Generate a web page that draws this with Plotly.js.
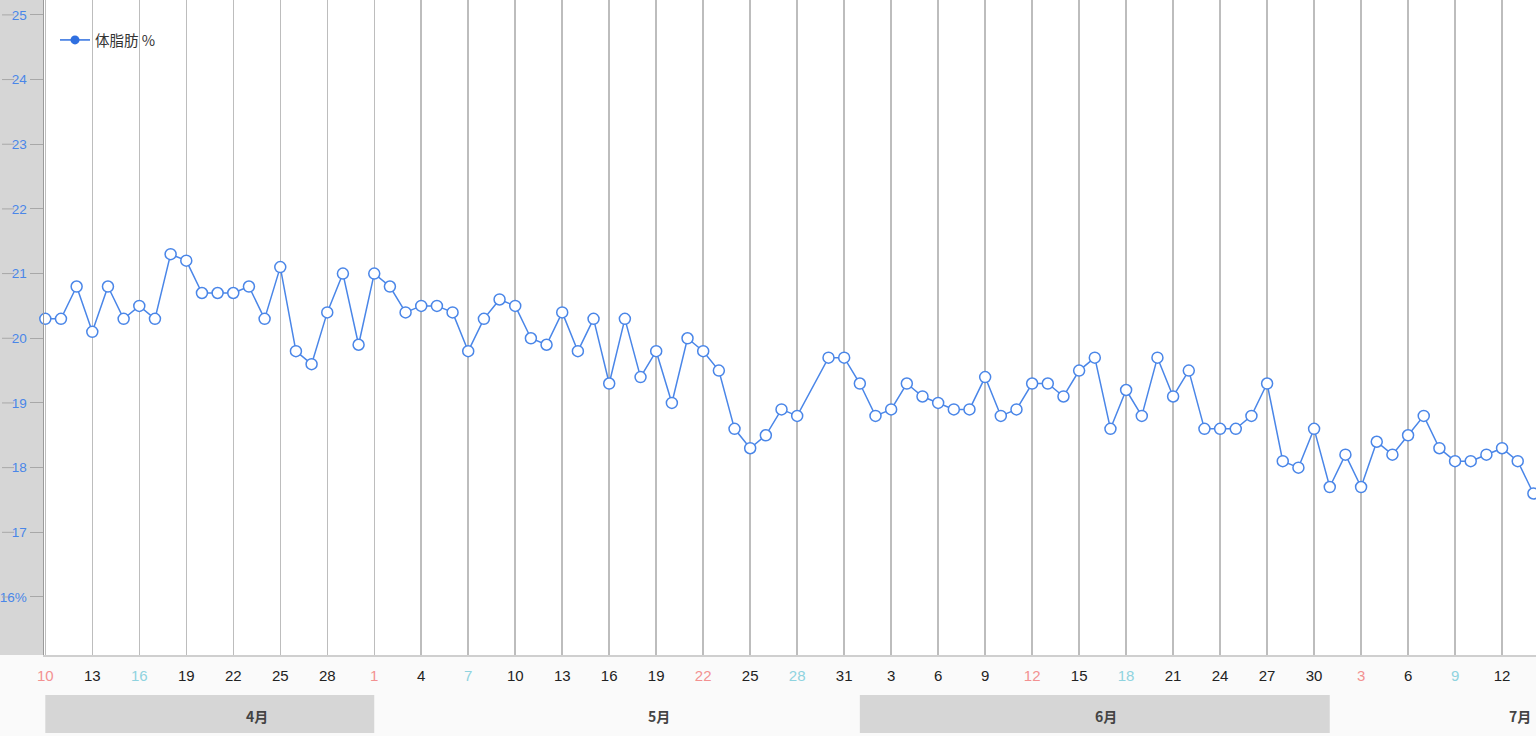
<!DOCTYPE html>
<html>
<head>
<meta charset="utf-8">
<script src="https://cdn.plot.ly/plotly-3.0.1.min.js"></script>
<style>html,body{margin:0;padding:0;background:#fafafa;}#chart{width:1536px;height:736px;}</style>
</head>
<body>
<div id="chart"></div>
<script>
// ---- data ----
const dates = [
  "2016-04-10","2016-04-11","2016-04-12","2016-04-13","2016-04-14","2016-04-15","2016-04-16","2016-04-17",
  "2016-04-18","2016-04-19","2016-04-20","2016-04-21","2016-04-22","2016-04-23","2016-04-24","2016-04-25",
  "2016-04-26","2016-04-27","2016-04-28","2016-04-29","2016-04-30",
  "2016-05-01","2016-05-02","2016-05-03","2016-05-04","2016-05-05","2016-05-06","2016-05-07","2016-05-08",
  "2016-05-09","2016-05-10","2016-05-11","2016-05-12","2016-05-13","2016-05-14","2016-05-15","2016-05-16",
  "2016-05-17","2016-05-18","2016-05-19","2016-05-20","2016-05-21","2016-05-22","2016-05-23","2016-05-24",
  "2016-05-25","2016-05-26","2016-05-27","2016-05-28","2016-05-30","2016-05-31",
  "2016-06-01","2016-06-02","2016-06-03","2016-06-04","2016-06-05","2016-06-06","2016-06-07","2016-06-08",
  "2016-06-09","2016-06-10","2016-06-11","2016-06-12","2016-06-13","2016-06-14","2016-06-15","2016-06-16",
  "2016-06-17","2016-06-18","2016-06-19","2016-06-20","2016-06-21","2016-06-22","2016-06-23","2016-06-24",
  "2016-06-25","2016-06-26","2016-06-27","2016-06-28","2016-06-29","2016-06-30",
  "2016-07-01","2016-07-02","2016-07-03","2016-07-04","2016-07-05","2016-07-06","2016-07-07","2016-07-08",
  "2016-07-09","2016-07-10","2016-07-11","2016-07-12","2016-07-13","2016-07-14"
];
const bodyFat = [
  20.3,20.3,20.8,20.1,20.8,20.3,20.5,20.3,
  21.3,21.2,20.7,20.7,20.7,20.8,20.3,21.1,
  19.8,19.6,20.4,21.0,19.9,
  21.0,20.8,20.4,20.5,20.5,20.4,19.8,20.3,
  20.6,20.5,20.0,19.9,20.4,19.8,20.3,19.3,
  20.3,19.4,19.8,19.0,20.0,19.8,19.5,18.6,
  18.3,18.5,18.9,18.8,19.7,19.7,
  19.3,18.8,18.9,19.3,19.1,19.0,18.9,18.9,
  19.4,18.8,18.9,19.3,19.3,19.1,19.5,19.7,
  18.6,19.2,18.8,19.7,19.1,19.5,18.6,18.6,
  18.6,18.8,19.3,18.1,18.0,18.6,
  17.7,18.2,17.7,18.4,18.2,18.5,18.8,18.3,
  18.1,18.1,18.2,18.3,18.1,17.6
];
const seriesName = "体脂肪 %";

const xTickDates = [
  "2016-04-10","2016-04-13","2016-04-16","2016-04-19","2016-04-22","2016-04-25","2016-04-28",
  "2016-05-01","2016-05-04","2016-05-07","2016-05-10","2016-05-13","2016-05-16","2016-05-19",
  "2016-05-22","2016-05-25","2016-05-28","2016-05-31","2016-06-03","2016-06-06","2016-06-09",
  "2016-06-12","2016-06-15","2016-06-18","2016-06-21","2016-06-24","2016-06-27","2016-06-30",
  "2016-07-03","2016-07-06","2016-07-09","2016-07-12"
];
const xTickLabels = ["10","13","16","19","22","25","28","1","4","7","10","13","16","19",
  "22","25","28","31","3","6","9","12","15","18","21","24","27","30","3","6","9","12"];

const yTickVals = [16,17,18,19,20,21,22,23,24,25];
const yTickLabels = ["16%","17","18","19","20","21","22","23","24","25"];

const monthNames = ["4月","5月","6月","7月"];
const monthLabelPos = ["2016-04-23 12:45","2016-05-19 04:20","2016-06-16 16:50","2016-07-13 04:00"];
const monthBandStart = ["2016-04-10","2016-05-01","2016-06-01","2016-07-01"];
const monthBandEnd   = ["2016-05-01","2016-06-01","2016-07-01","2016-08-01"];

// ---- styling ----
const blue = "#4a86e8";
const W = 1536, H = 736, ML = 44, MB = 81;
const plotW = W - ML, plotH = H - MB;

function tickColor(d) {
  const wd = new Date(d + "T00:00:00Z").getUTCDay();
  if (wd === 0) return "#f39191";
  if (wd === 6) return "#8fd3df";
  return "#222222";
}
const xTickText = xTickLabels.map((t, i) =>
  '<span style="color:' + tickColor(xTickDates[i]) + '">' + t + '</span>');

const shapes = [];
// left gray y-axis panel
shapes.push({type:"rect", xref:"paper", yref:"paper", x0:-ML/plotW, x1:0, y0:0, y1:1,
  fillcolor:"#d6d6d6", line:{width:0}, layer:"below"});
// left short dashes next to y labels
yTickVals.forEach(v => {
  shapes.push({type:"line", xref:"paper", yref:"y", x0:-42/plotW, x1:(v===16? -36:-30)/plotW, y0:v, y1:v,
    line:{color:"#a8a8a8", width:1}});
});
// month bands (alternating gray)
monthBandStart.forEach((s, i) => {
  if (i % 2 === 0) {
    shapes.push({type:"rect", xref:"x", yref:"paper", x0:s, x1:monthBandEnd[i],
      y0:-(733-plotH)/plotH, y1:-(695-plotH)/plotH, fillcolor:"#d6d6d6", line:{width:0}});
  }
});

const annotations = monthNames.map((m, i) => ({
  xref:"x", yref:"paper", x:monthLabelPos[i], y:-(716-plotH)/plotH,
  text:"<b>"+m+"</b>", showarrow:false, xanchor:"center", yanchor:"middle",
  font:{size:14, color:"#444444", family:'"Noto Sans CJK JP", "Liberation Sans", sans-serif'}
}));

const traces = [
  {
    x: dates, y: bodyFat, type:"scatter", mode:"lines+markers", name:seriesName,
    showlegend:false, cliponaxis:false,
    line:{color:blue, width:1.5},
    marker:{size:11, color:"#ffffff", line:{color:blue, width:1.5}}
  },
  {
    x:[null], y:[null], type:"scatter", mode:"lines+markers", name:seriesName,
    showlegend:true,
    line:{color:"#2f6fe0", width:1.5},
    marker:{size:9, color:"#2f6fe0"}
  }
];

const layout = {
  width:W, height:H,
  margin:{l:ML, r:0, t:0, b:MB, pad:0},
  paper_bgcolor:"#fafafa",
  plot_bgcolor:"#ffffff",
  font:{family:'"Liberation Sans", "Noto Sans CJK JP", sans-serif', color:"#222"},
  hovermode:false,
  showlegend:true,
  legend:{x:(55-ML)/plotW, y:1-24/plotH, xanchor:"left", yanchor:"top",
    bgcolor:"rgba(0,0,0,0)", font:{size:14.5, color:"#333333",
    family:'"Noto Sans CJK JP", "Liberation Sans", sans-serif'}, itemwidth:30},
  xaxis:{
    type:"date",
    range:["2016-04-09 22:00","2016-07-14 04:00"],
    tickmode:"array", tickvals:xTickDates, ticktext:xTickText,
    ticks:"", tickfont:{size:15, color:"#222"}, ticklabelstandoff:6,
    showgrid:true, gridcolor:"#bdbdbd", gridwidth:1.5,
    showline:true, linecolor:"#cfcfcf", linewidth:1.5,
    zeroline:false, fixedrange:true
  },
  yaxis:{
    range:[15.103, 25.23],
    tickmode:"array", tickvals:yTickVals, ticktext:yTickLabels,
    ticks:"outside", ticklen:13, tickcolor:"#a8a8a8", tickwidth:1,
    tickfont:{size:13.5, color:"#4a86e8"},
    showgrid:false, zeroline:false,
    showline:true, linecolor:"#9a9a9a", linewidth:1.5, fixedrange:true
  },
  shapes:shapes,
  annotations:annotations
};

Plotly.newPlot("chart", traces, layout, {displayModeBar:false, staticPlot:true});
</script>
</body>
</html>
